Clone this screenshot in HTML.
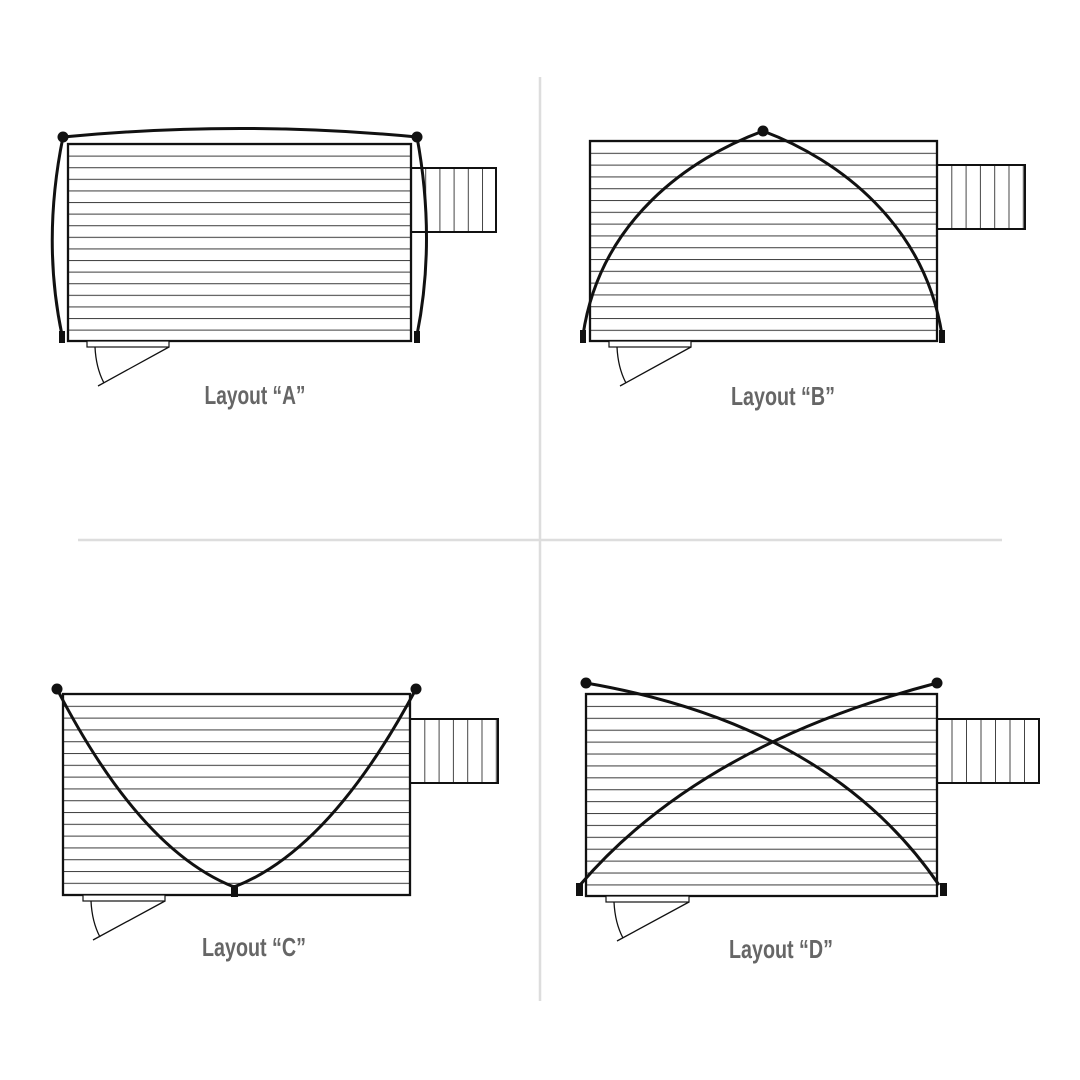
<!DOCTYPE html>
<html><head><meta charset="utf-8"><style>
html,body{margin:0;padding:0;background:#fff}
svg{display:block}
text{font-family:"Liberation Sans Narrow","Liberation Sans",sans-serif;font-size:26px;fill:#666;font-weight:bold}
</style></head><body>
<svg width="1080" height="1080" viewBox="0 0 1080 1080" xmlns="http://www.w3.org/2000/svg">
<defs>
<pattern id="pA" patternUnits="userSpaceOnUse" x="0" y="144" width="10" height="11.6"><line x1="0" y1="0.5" x2="10" y2="0.5" stroke="#444" stroke-width="1.1"/></pattern>
<pattern id="pB" patternUnits="userSpaceOnUse" x="0" y="141" width="10" height="11.8"><line x1="0" y1="0.5" x2="10" y2="0.5" stroke="#444" stroke-width="1.1"/></pattern>
<pattern id="pC" patternUnits="userSpaceOnUse" x="0" y="694" width="10" height="11.8"><line x1="0" y1="0.5" x2="10" y2="0.5" stroke="#444" stroke-width="1.1"/></pattern>
<pattern id="pD" patternUnits="userSpaceOnUse" x="0" y="694" width="10" height="11.9"><line x1="0" y1="0.5" x2="10" y2="0.5" stroke="#444" stroke-width="1.1"/></pattern>
<pattern id="vA" patternUnits="userSpaceOnUse" x="411" y="0" width="14.2" height="10"><line x1="0.5" y1="0" x2="0.5" y2="10" stroke="#444"/></pattern>
<pattern id="vB" patternUnits="userSpaceOnUse" x="937" y="0" width="14.3" height="10"><line x1="0.5" y1="0" x2="0.5" y2="10" stroke="#444"/></pattern>
<pattern id="vC" patternUnits="userSpaceOnUse" x="410" y="0" width="14.3" height="10"><line x1="0.5" y1="0" x2="0.5" y2="10" stroke="#444"/></pattern>
<pattern id="vD" patternUnits="userSpaceOnUse" x="937" y="0" width="14.5" height="10"><line x1="0.5" y1="0" x2="0.5" y2="10" stroke="#444"/></pattern>
</defs>

<line x1="540" y1="77" x2="540" y2="1001" stroke="#ddd" stroke-width="2.5"/>
<line x1="78" y1="540" x2="1002" y2="540" stroke="#ddd" stroke-width="2.5"/>

<!-- A -->
<rect x="411" y="168" width="85" height="64" fill="url(#vA)" stroke="#111" stroke-width="2"/>
<rect x="68" y="144" width="343" height="197" fill="url(#pA)" stroke="#111" stroke-width="2.3"/>
<rect x="87" y="341" width="82" height="6" fill="#fff" stroke="#111" stroke-width="1.2"/>
<line x1="169" y1="347" x2="98" y2="386" stroke="#111" stroke-width="1.3"/>
<path d="M95 347 Q96 368 104 383" fill="none" stroke="#111" stroke-width="1.3"/>
<path d="M63 137 Q240 120 417 137" fill="none" stroke="#111" stroke-width="3"/>
<path d="M63 137 Q42 240 62 335" fill="none" stroke="#111" stroke-width="3"/>
<path d="M417 137 Q436 240 417 335" fill="none" stroke="#111" stroke-width="3"/>
<circle cx="63" cy="137" r="5.5" fill="#111"/><circle cx="417" cy="137" r="5.5" fill="#111"/>
<rect x="59" y="331" width="6" height="12" fill="#111"/><rect x="414" y="331" width="6" height="12" fill="#111"/>
<text x="255" y="404" text-anchor="middle" textLength="101" lengthAdjust="spacingAndGlyphs">Layout “A”</text>

<!-- B -->
<rect x="937" y="165" width="88" height="64" fill="url(#vB)" stroke="#111" stroke-width="2"/>
<rect x="590" y="141" width="347" height="200" fill="url(#pB)" stroke="#111" stroke-width="2.3"/>
<rect x="609" y="341" width="82" height="6" fill="#fff" stroke="#111" stroke-width="1.2"/>
<line x1="691" y1="347" x2="620" y2="386" stroke="#111" stroke-width="1.3"/>
<path d="M617 347 Q618 368 626 383" fill="none" stroke="#111" stroke-width="1.3"/>
<path d="M763 131 C690 158 600 220 583 335" fill="none" stroke="#111" stroke-width="3"/>
<path d="M763 131 C840 160 925 225 942 335" fill="none" stroke="#111" stroke-width="3"/>
<circle cx="763" cy="131" r="5.5" fill="#111"/>
<rect x="580" y="330" width="6" height="13" fill="#111"/><rect x="939" y="330" width="6" height="13" fill="#111"/>
<text x="783" y="405" text-anchor="middle" textLength="104" lengthAdjust="spacingAndGlyphs">Layout “B”</text>

<!-- C -->
<rect x="410" y="719" width="88" height="64" fill="url(#vC)" stroke="#111" stroke-width="2"/>
<rect x="63" y="694" width="347" height="201" fill="url(#pC)" stroke="#111" stroke-width="2.3"/>
<rect x="83" y="895" width="82" height="6" fill="#fff" stroke="#111" stroke-width="1.2"/>
<line x1="165" y1="901" x2="93" y2="940" stroke="#111" stroke-width="1.3"/>
<path d="M91 901 Q92 922 100 937" fill="none" stroke="#111" stroke-width="1.3"/>
<path d="M57 689 Q140 850 234 887" fill="none" stroke="#111" stroke-width="3"/>
<path d="M416 689 Q330 850 234 887" fill="none" stroke="#111" stroke-width="3"/>
<circle cx="57" cy="689" r="5.5" fill="#111"/><circle cx="416" cy="689" r="5.5" fill="#111"/>
<rect x="231" y="885" width="7" height="12" fill="#111"/>
<text x="254" y="956" text-anchor="middle" textLength="104" lengthAdjust="spacingAndGlyphs">Layout “C”</text>

<!-- D -->
<rect x="937" y="719" width="102" height="64" fill="url(#vD)" stroke="#111" stroke-width="2"/>
<rect x="586" y="694" width="351" height="202" fill="url(#pD)" stroke="#111" stroke-width="2.3"/>
<rect x="606" y="896" width="83" height="6" fill="#fff" stroke="#111" stroke-width="1.2"/>
<line x1="689" y1="902" x2="617" y2="941" stroke="#111" stroke-width="1.3"/>
<path d="M614 902 Q615 923 623 938" fill="none" stroke="#111" stroke-width="1.3"/>
<path d="M586 683 Q830 725 939 885" fill="none" stroke="#111" stroke-width="3"/>
<path d="M937 683 Q700 745 580 885" fill="none" stroke="#111" stroke-width="3"/>
<circle cx="586" cy="683" r="5.5" fill="#111"/><circle cx="937" cy="683" r="5.5" fill="#111"/>
<rect x="576" y="883" width="7" height="13" fill="#111"/><rect x="940" y="883" width="7" height="13" fill="#111"/>
<text x="781" y="958" text-anchor="middle" textLength="104" lengthAdjust="spacingAndGlyphs">Layout “D”</text>
</svg>
</body></html>
